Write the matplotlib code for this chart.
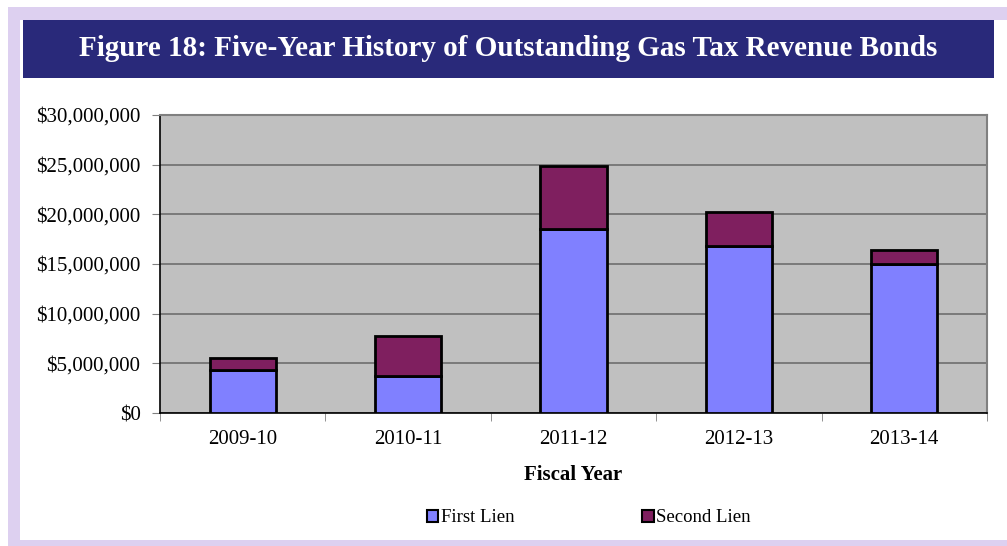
import numpy as np
import matplotlib.pyplot as plt
from matplotlib.patches import Rectangle
from matplotlib.ticker import FuncFormatter

# outstanding bonds by fiscal year, dollars
years = ["2009-10", "2010-11", "2011-12", "2012-13", "2013-14"]
first_lien = [4300000, 3700000, 18550000, 16850000, 14950000]
second_lien = [1250000, 4050000, 6350000, 3350000, 1450000]

plt.rcParams['font.family'] = ['Liberation Serif', 'DejaVu Serif']

fig = plt.figure(figsize=(10.07, 5.46), dpi=100)
W, H = 1007, 546

def px(x0, y0, x1, y1):
    # pixel box (top-left origin) -> figure fraction rect
    return [x0 / W, 1 - y1 / H, (x1 - x0) / W, (y1 - y0) / H]

# lavender frame, white panel, navy title band
fig.patches.append(Rectangle((0, 0), 1, 1, transform=fig.transFigure,
                             facecolor='white', edgecolor='none', zorder=-3))
r = px(8, 7, 1007, 546)
fig.patches.append(Rectangle((r[0], r[1]), r[2], r[3], transform=fig.transFigure,
                             facecolor='#DDD0F0', edgecolor='none', zorder=-2))
r = px(20, 20, 1007, 540)
fig.patches.append(Rectangle((r[0], r[1]), r[2], r[3], transform=fig.transFigure,
                             facecolor='white', edgecolor='none', zorder=-1))
r = px(23, 20, 994, 78)
fig.patches.append(Rectangle((r[0], r[1]), r[2], r[3], transform=fig.transFigure,
                             facecolor='#29297A', edgecolor='none', zorder=0))
fig.text(508 / W, 1 - 48 / H, "Figure 18: Five-Year History of Outstanding Gas Tax Revenue Bonds",
         color='white', fontsize=21, fontweight='bold', ha='center', va='center')

ax = fig.add_axes(px(160, 115, 987, 413))
ax.set_facecolor('#C0C0C0')

x = np.arange(len(years))
ax.bar(x, first_lien, width=0.4, color='#8080FF', edgecolor='black', linewidth=2,
       label='First Lien', zorder=3)
ax.bar(x, second_lien, width=0.4, bottom=first_lien, color='#7F1F5F', edgecolor='black',
       linewidth=2, label='Second Lien', zorder=3)

ax.set_xlim(-0.5, len(years) - 0.5)
ax.set_ylim(0, 30000000)
ax.set_yticks(np.arange(0, 30000001, 5000000))
ax.yaxis.set_major_formatter(FuncFormatter(lambda v, p: "${:,.0f}".format(v)))
ax.grid(axis='y', color='#6E6E6E', linewidth=1.2, zorder=1)
ax.set_axisbelow(True)

ax.set_xticks(x)
ax.set_xticklabels(years)
ax.set_xticks(np.arange(-0.5, len(years)), minor=True)
ax.tick_params(axis='x', which='major', length=0, labelsize=15, pad=12)
ax.tick_params(axis='x', which='minor', length=6, color='#808080', direction='out')
ax.tick_params(axis='y', length=6, color='#808080', labelsize=15, pad=8)

for s in ['left', 'bottom']:
    ax.spines[s].set_color('black')
    ax.spines[s].set_linewidth(1.2)
for s in ['top', 'right']:
    ax.spines[s].set_color('#808080')
    ax.spines[s].set_linewidth(1.5)

ax.set_xlabel("Fiscal Year", fontsize=15, fontweight='bold', labelpad=12)

leg = fig.legend(loc='center', bbox_to_anchor=(589 / W, 1 - 518 / H), ncol=2, frameon=False,
                 fontsize=13.5, handlelength=0.6, handleheight=0.6, handletextpad=0.15,
                 columnspacing=6.8)
for h in leg.legend_handles:
    h.set_linewidth(1.5)

fig.savefig("out.png", dpi=100)
